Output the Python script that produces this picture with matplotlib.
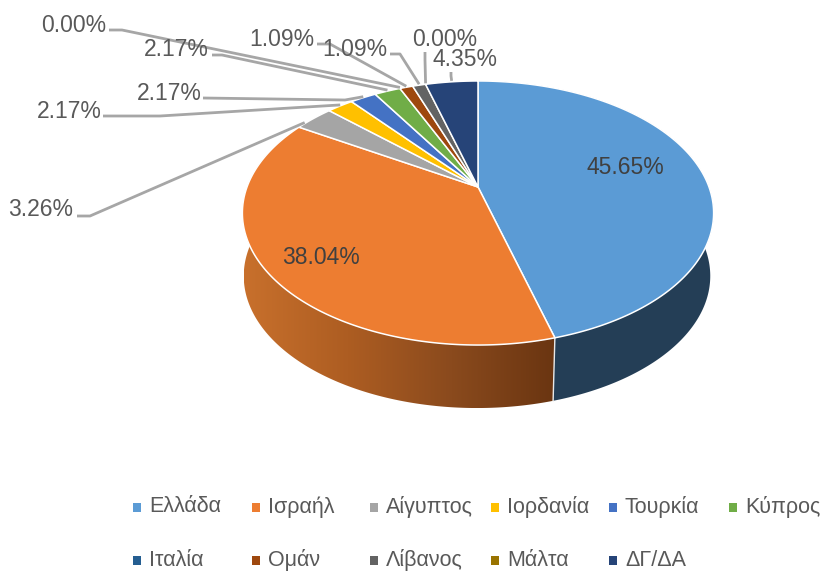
"""Perspective 3D pie of countries, drawn on an axes in image pixel units."""

import matplotlib
matplotlib.use("Agg")
import matplotlib.pyplot as plt
import numpy as np
from matplotlib.colors import LinearSegmentedColormap
from matplotlib.patches import Polygon, Rectangle

# ── Data ─────────────────────────────────────────────────────────────────────
countries = ["Ελλάδα", "Ισραήλ", "Αίγυπτος", "Ιορδανία", "Τουρκία", "Κύπρος",
             "Ιταλία", "Ομάν", "Λίβανος", "Μάλτα", "ΔΓ/ΔΑ"]
shares = [45.65, 38.04, 3.26, 2.17, 2.17, 2.17, 0.00, 1.09, 1.09, 0.00, 4.35]
colors = ["#5B9BD5", "#ED7D31", "#A5A5A5", "#FFC000", "#4472C4", "#70AD47",
          "#255E91", "#9E480E", "#636363", "#997300", "#264478"]

# ── Layout ───────────────────────────────────────────────────────────────────
W, H = 823, 573
CX, CY = 478, 187       # apex of the pie
RX, RY = 231, 126.9     # projected radii
PERSP = 0.197           # perspective strength
DEPTH = 63
TEXT = "#595959"
LEADER = "#A6A6A6"

# label centre (x, y), then the leader's start and elbow
label_xy = [(625, 167), (321, 257), (41, 209), (69, 111), (169, 93), (176, 50),
            (74, 26), (282, 39), (355, 49), (445, 39), (465, 60)]
leader_xy = [None, None,
             [(77, 216), (90, 216)],
             [(103, 116), (160, 116)],
             [(203, 98), (345, 100)],
             [(212, 55), (222, 55)],
             [(109, 30), (122, 30)],
             [(317, 44), (330, 44)],
             [(390, 54), (400, 54)],
             [(425, 52), (425, 60)],
             [(451, 72), (451, 76)]]
# where along its slice's rim each leader lands
anchor = [0.5, 0.5, 0.2, 0.5, 0.5, 0.5, 0.5, 0.5, 0.5, 0.5, 0.5]

legend_x = [137, 256, 374, 495, 613, 733]
legend_y = [507, 560]

plt.rcParams["font.family"] = ["Liberation Sans", "DejaVu Sans"]


def project(frac):
    """Clockwise fraction of the circle from 12 o'clock to image pixels."""
    a = 2 * np.pi * np.asarray(frac)
    u, v = np.sin(a), np.cos(a)
    d = 1 + PERSP * v
    return CX + RX * u / d, CY - RY * v / d


def lower(x, y):
    """Same rim point on the bottom face of the pie."""
    return CX - 1 + 0.99 * (x - CX), y + DEPTH


fig = plt.figure(figsize=(W / 100, H / 100), dpi=100, facecolor="white")
ax = fig.add_axes([0, 0, 1, 1])

edges = np.concatenate([[0], np.cumsum(shares)]) / sum(shares)

# ── Side walls (only the first two slices face the viewer) ───────────────────
orange_side = LinearSegmentedColormap.from_list(
    "orange_side", ["#C8702C", "#AD5D22", "#8A4A1D", "#6A3511"])
t = np.linspace(edges[1], edges[2], 240)
x, y = project(t)
xb, yb = lower(x, y)
wall = Polygon(np.r_[np.c_[x, y], np.c_[xb, yb][::-1]], transform=ax.transData,
               facecolor="none", edgecolor="none")
ax.add_patch(wall)
grad = ax.imshow(np.linspace(0, 1, 256)[None, :], cmap=orange_side, aspect="auto",
                 extent=(xb.min(), x[0], yb.max(), y.min()), zorder=1)
grad.set_clip_path(wall)

t = np.linspace(edges[0], edges[1], 240)
x, y = project(t)
xb, yb = lower(x, y)
ax.add_patch(Polygon(np.r_[np.c_[x, y], np.c_[xb, yb][::-1]],
                     facecolor="#243E56", edgecolor="none", zorder=1))
ax.plot([x[-1], xb[-1]], [y[-1], yb[-1]], color="#E8E8E8", lw=1, zorder=2)

ax.set_xlim(0, W)
ax.set_ylim(H, 0)
ax.axis("off")

# ── Top face ─────────────────────────────────────────────────────────────────
for i, share in enumerate(shares):
    if share == 0:
        continue
    t = np.linspace(edges[i], edges[i + 1], 200)
    x, y = project(t)
    pts = np.r_[[(CX, CY)], np.c_[x, y]]
    ax.add_patch(Polygon(pts, facecolor=colors[i], edgecolor="white",
                         lw=1.1, joinstyle="round", zorder=3))

# ── Labels and leaders ───────────────────────────────────────────────────────
for i, share in enumerate(shares):
    ax.text(*label_xy[i], f"{share:.2f}%", ha="center", va="center",
            fontsize=16.5, color="#404040" if i < 2 else TEXT, zorder=6)
    if leader_xy[i] is None:
        continue
    ex, ey = project(edges[i] + anchor[i] * (edges[i + 1] - edges[i]))
    px = [p[0] for p in leader_xy[i]] + [float(ex)]
    py = [p[1] for p in leader_xy[i]] + [float(ey) - 1]
    ax.plot(px, py, color=LEADER, lw=2, solid_capstyle="butt", zorder=5)

# ── Legend ───────────────────────────────────────────────────────────────────
for i, name in enumerate(countries):
    row, col = divmod(i, 6)
    mx, my = legend_x[col], legend_y[row]
    ax.add_patch(Rectangle((mx - 4, my - 4.5), 8, 9, facecolor=colors[i],
                           edgecolor="none"))
    ax.text(mx + 12, my, name, ha="left", va="center", fontsize=15.5, color=TEXT)

fig.savefig("out.png", dpi=100)
